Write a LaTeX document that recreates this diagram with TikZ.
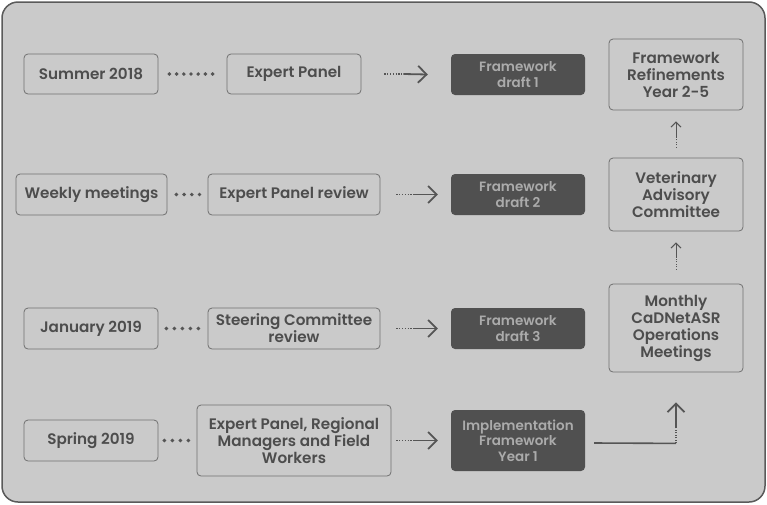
\documentclass[tikz,border=0pt]{standalone}
\usepackage{fontspec}
\setmainfont{Poppins}[BoldFont={Poppins SemiBold}]
\usetikzlibrary{arrows.meta,calc}

\definecolor{panelbg}{HTML}{CACACA}
\definecolor{panelframe}{HTML}{5A5A5A}
\definecolor{boxline}{HTML}{707070}
\definecolor{boxtext}{HTML}{4D4D4D}
\definecolor{darkbox}{HTML}{505050}
\definecolor{darktext}{HTML}{ABABAB}
\definecolor{arrowgray}{HTML}{555555}

\tikzset{
  stepbox/.style={draw=boxline, line width=0.8pt, rounded corners=4pt, align=center,
    text=boxtext, inner sep=0pt, font=\bfseries\fontsize{15.2}{17}\selectfont},
  draftbox/.style={fill=darkbox, rounded corners=4pt, align=center, text=darktext,
    inner sep=0pt, minimum width=134pt, font=\bfseries\fontsize{13.5}{15.5}\selectfont},
  dotrow/.style={draw=arrowgray, line width=3.9pt, line cap=round, dash pattern=on 0pt off #1},
  dotrow/.default=7.2pt,
  finedots/.style={draw=arrowgray, line width=1.2pt, dash pattern=on 1.2pt off 1.6pt},
  headline/.style={draw=arrowgray, line width=1.8pt,
    -{Straight Barb[length=8.5pt,width=17pt,line width=1.8pt]}},
  thinhead/.style={draw=arrowgray, line width=1pt,
    -{Straight Barb[length=5pt,width=10pt,line width=1pt]}},
  thindots/.style={draw=arrowgray, line width=1pt, dash pattern=on 1pt off 1.5pt}
}

\begin{document}
\begin{tikzpicture}[x=1pt, y=-1pt]
% Panel behind everything
\useasboundingbox (0,0) rectangle (767,504);
\draw[fill=panelbg, draw=panelframe, line width=1.5pt, rounded corners=16pt] (2,2) rectangle (765,502);

% Row 1
\node[stepbox, minimum width=134pt, minimum height=40pt] (sum) at (91,74) {Summer 2018};
\node[stepbox, minimum width=134pt, minimum height=40pt] (ep1) at (294,74) {Expert Panel};
\node[draftbox, minimum height=41pt] (fd1) at (518,74.5) {Framework\\draft 1};
\node[stepbox, minimum width=134pt, minimum height=71pt] (ref) at (676,74.5) {Framework\\Refinements\\Year 2-5};

% Row 2
\node[stepbox, minimum width=151pt, minimum height=41pt] (week) at (91.5,194.5) {Weekly meetings};
\node[stepbox, minimum width=172pt, minimum height=41pt] (epr) at (294,194.5) {Expert Panel review};
\node[draftbox, minimum height=41pt] (fd2) at (518,194.5) {Framework\\draft 2};
\node[stepbox, minimum width=134pt, minimum height=73pt] (vet) at (676,194.5) {Veterinary\\Advisory\\Committee};

% Row 3
\node[stepbox, minimum width=134pt, minimum height=41pt] (jan) at (91,328.5) {January 2019};
\node[stepbox, minimum width=172pt, minimum height=41pt] (scr) at (294,328.5) {Steering Committee\\review};
\node[draftbox, minimum height=41pt] (fd3) at (518,328.5) {Framework\\draft 3};
\node[stepbox, minimum width=134pt, minimum height=88pt] (mon) at (676,328) {Monthly\\CaDNetASR\\Operations\\Meetings};

% Row 4
\node[stepbox, minimum width=134pt, minimum height=41pt] (spr) at (91,440.5) {Spring 2019};
\node[stepbox, minimum width=194pt, minimum height=71pt] (epw) at (294,440.5) {Expert Panel, Regional\\Managers and Field\\Workers};
\node[draftbox, minimum height=61pt] (impl) at (518,440.5) {Implementation\\Framework\\Year 1};

% Dots between date and group
\draw[dotrow] ($(sum.east)+(11,0)$) -- ($(ep1.west)+(-13,0)$);
\draw[dotrow=7.7pt] ($(week.east)+(9,0)$) -- ($(epr.west)+(-7,0)$);
\draw[dotrow=8pt] ($(jan.east)+(8,0)$) -- ($(scr.west)+(-8,0)$);
\draw[dotrow=8pt] ($(spr.east)+(6,0)$) -- ($(epw.west)+(-7,0)$);

% Arrows into the drafts
\draw[finedots] ($(ep1.east)+(23,0)$) -- ($(ep1.east)+(42,0)$);
\draw[headline] ($(ep1.east)+(42,0)$) -- ($(fd1.west)+(-23,0)$);
\draw[finedots] ($(epr.east)+(16,0)$) -- ($(epr.east)+(33,0)$);
\draw[headline] ($(epr.east)+(33,0)$) -- ($(fd2.west)+(-13,0)$);
\draw[finedots] ($(scr.east)+(16,0)$) -- ($(scr.east)+(33,0)$);
\draw[headline] ($(scr.east)+(33,0)$) -- ($(fd3.west)+(-13,0)$);
\draw[finedots] ($(epw.east)+(5,0)$) -- ($(epw.east)+(22,0)$);
\draw[headline] ($(epw.east)+(22,0)$) -- ($(impl.west)+(-13,0)$);

% Arrows up the right column
\draw[thindots] ($(vet.north)+(0,-10)$) -- ($(vet.north)+(0,-21)$);
\draw[thinhead] ($(vet.north)+(0,-21)$) -- ($(ref.south)+(0,11)$);
\draw[thindots] ($(mon.north)+(0,-14)$) -- ($(mon.north)+(0,-27)$);
\draw[thinhead] ($(mon.north)+(0,-27)$) -- ($(vet.south)+(0,11)$);

% Implementation back up to the monthly meetings
\coordinate (turn) at ($(mon.south)+(0,71)$);
\draw[draw=arrowgray, line width=1.6pt] ($(impl.east)+(9,2.5)$) -- (turn);
\draw[thindots, line width=1.4pt] (turn) -- ($(turn)+(0,-16)$);
\draw[headline] ($(turn)+(0,-16)$) -- ($(mon.south)+(0,30)$);
\end{tikzpicture}
\end{document}
